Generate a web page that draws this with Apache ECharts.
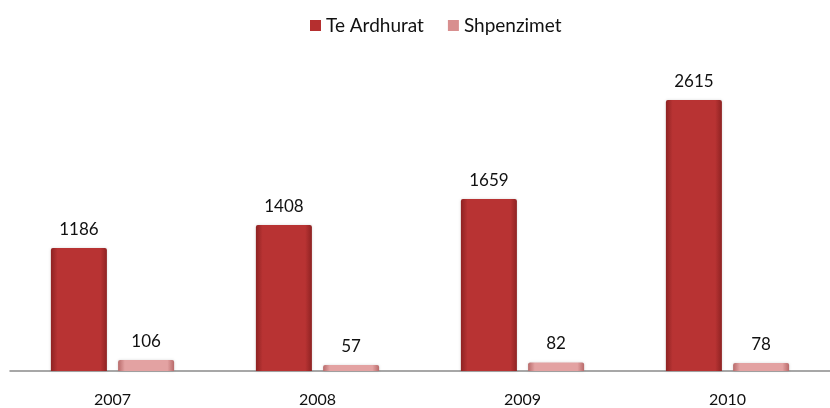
<!DOCTYPE html>
<html><head><meta charset="utf-8">
<script src="https://cdn.jsdelivr.net/npm/echarts@6/dist/echarts.min.js"></script>
<style>html,body{margin:0;padding:0;background:#fff}#c{width:830px;height:408px}</style>
</head><body><div id="c"></div>
<script>
const categories = ['2007', '2008', '2009', '2010'];
const teArdhurat = [1186, 1408, 1659, 2615];
const shpenzimet = [106, 57, 82, 78];

const font = 'Lato, "Open Sans", sans-serif';
function grad(edge, mid) {
  return new echarts.graphic.LinearGradient(0, 0, 1, 0, [
    {offset: 0, color: edge}, {offset: 0.12, color: mid}, {offset: 0.88, color: mid}, {offset: 1, color: edge}
  ]);
}
const chart = echarts.init(document.getElementById('c'));
chart.setOption({
  animation: false,
  legend: {
    top: 11, left: 305, itemWidth: 11, itemHeight: 11, itemGap: 24,
    textStyle: {fontFamily: font, fontSize: 19, color: '#111'},
    data: [
      {name: 'Te Ardhurat', icon: 'rect', itemStyle: {color: '#b52f2f'}},
      {name: 'Shpenzimet', icon: 'rect', itemStyle: {color: '#d88f8f'}}
    ]
  },
  grid: {left: 10, width: 832, top: 60, bottom: 37},
  xAxis: {
    type: 'category', data: categories,
    axisLine: {lineStyle: {color: '#8a8a8a', width: 1.5}},
    axisTick: {show: false},
    axisLabel: {fontFamily: font, fontSize: 16, color: '#111', margin: 21}
  },
  yAxis: {type: 'value', min: 0, max: 3000, show: false, splitLine: {show: false}},
  series: [
    {
      name: 'Te Ardhurat', type: 'bar', data: teArdhurat, barWidth: 56, barGap: '20%',
      itemStyle: {color: grad('#8e2222', '#b83333'), borderRadius: [2, 2, 0, 0],
        shadowColor: 'rgba(0,0,0,0.15)', shadowBlur: 3},
      label: {show: true, position: 'top', distance: 10, fontFamily: font, fontSize: 17, color: '#111'}
    },
    {
      name: 'Shpenzimet', type: 'bar', data: shpenzimet, barWidth: 56,
      itemStyle: {color: grad('#b86a6a', '#e3a2a2'), borderRadius: [2, 2, 0, 0],
        shadowColor: 'rgba(0,0,0,0.15)', shadowBlur: 3},
      label: {show: true, position: 'top', distance: 10, fontFamily: font, fontSize: 17, color: '#111'}
    }
  ]
});
</script></body></html>
